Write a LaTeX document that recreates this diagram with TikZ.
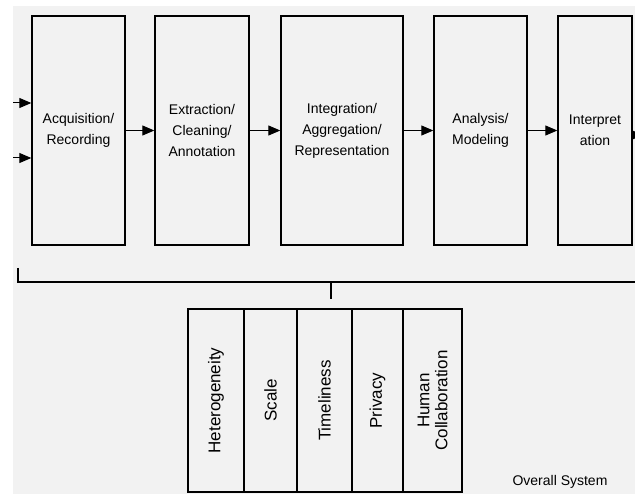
\documentclass[tikz,border=0pt]{standalone}
\usepackage{fontspec}
\setmainfont{Liberation Sans}
\usetikzlibrary{arrows.meta}
\definecolor{bggray}{HTML}{F2F2F2}

\begin{document}
\begin{tikzpicture}[x=1pt, y=-1pt,
  stage/.style={draw, line width=1.4pt, minimum height=229pt, align=center,
    inner sep=0pt, font=\fontsize{14}{21}\selectfont},
  issue/.style={draw, line width=1.8pt, minimum width=183pt, align=center,
    inner sep=0pt, rotate=90, font=\fontsize{17}{18}\selectfont},
  flow/.style={draw, line width=1pt, -{Triangle[length=12pt,width=10pt]}}]
\useasboundingbox (0,0) rectangle (635,494);
\fill[bggray] (13,6) rectangle (635,494);

\node[stage, minimum width=93pt] (1) at (78.5,130.5) {Acquisition/\\Recording};
\node[stage, minimum width=94pt] (2) at (202,130.5) {Extraction/\\Cleaning/\\Annotation};
\node[stage, minimum width=122pt] (3) at (342,130.5) {Integration/\\Aggregation/\\Representation};
\node[stage, minimum width=93pt] (4) at (480.5,130.5) {Analysis/\\Modeling};
\node[stage, minimum width=74pt] (5) at (595,130.5) {Interpret\\ation};

\coordinate (in1) at (13,103);
\coordinate (in2) at (13,158);
\coordinate (out) at (643,135);

\path[flow] (in1) -- (in1 -| 1.west);
\path[flow] (in2) -- (in2 -| 1.west);
\path[flow] (1) -- (2);
\path[flow] (2) -- (3);
\path[flow] (3) -- (4);
\path[flow] (4) -- (5);
\path[flow] (out -| 5.east) -- (out);

% brace over all stages
\coordinate (b1) at (18,268);
\coordinate (b2) at (18,282);
\coordinate (b3) at (640,282);
\coordinate (bm) at (331,282);
\coordinate (bt) at (331,299);
\draw[line width=1.8pt] (b1) -- (b2) -- (b3);
\draw[line width=1.4pt] (bm) -- (bt);

\node[issue, minimum height=56pt] (6) at (216,400.5) {Heterogeneity};
\node[issue, minimum height=53pt] (7) at (270.5,400.5) {Scale};
\node[issue, minimum height=55pt] (8) at (324.5,400.5) {Timeliness};
\node[issue, minimum height=51pt] (9) at (377.5,400.5) {Privacy};
\node[issue, minimum height=59pt] (10) at (432.5,400.5) {Human\\Collaboration};

\node[font=\fontsize{14}{16}\selectfont] (sys) at (560,482) {Overall System};
\end{tikzpicture}
\end{document}
